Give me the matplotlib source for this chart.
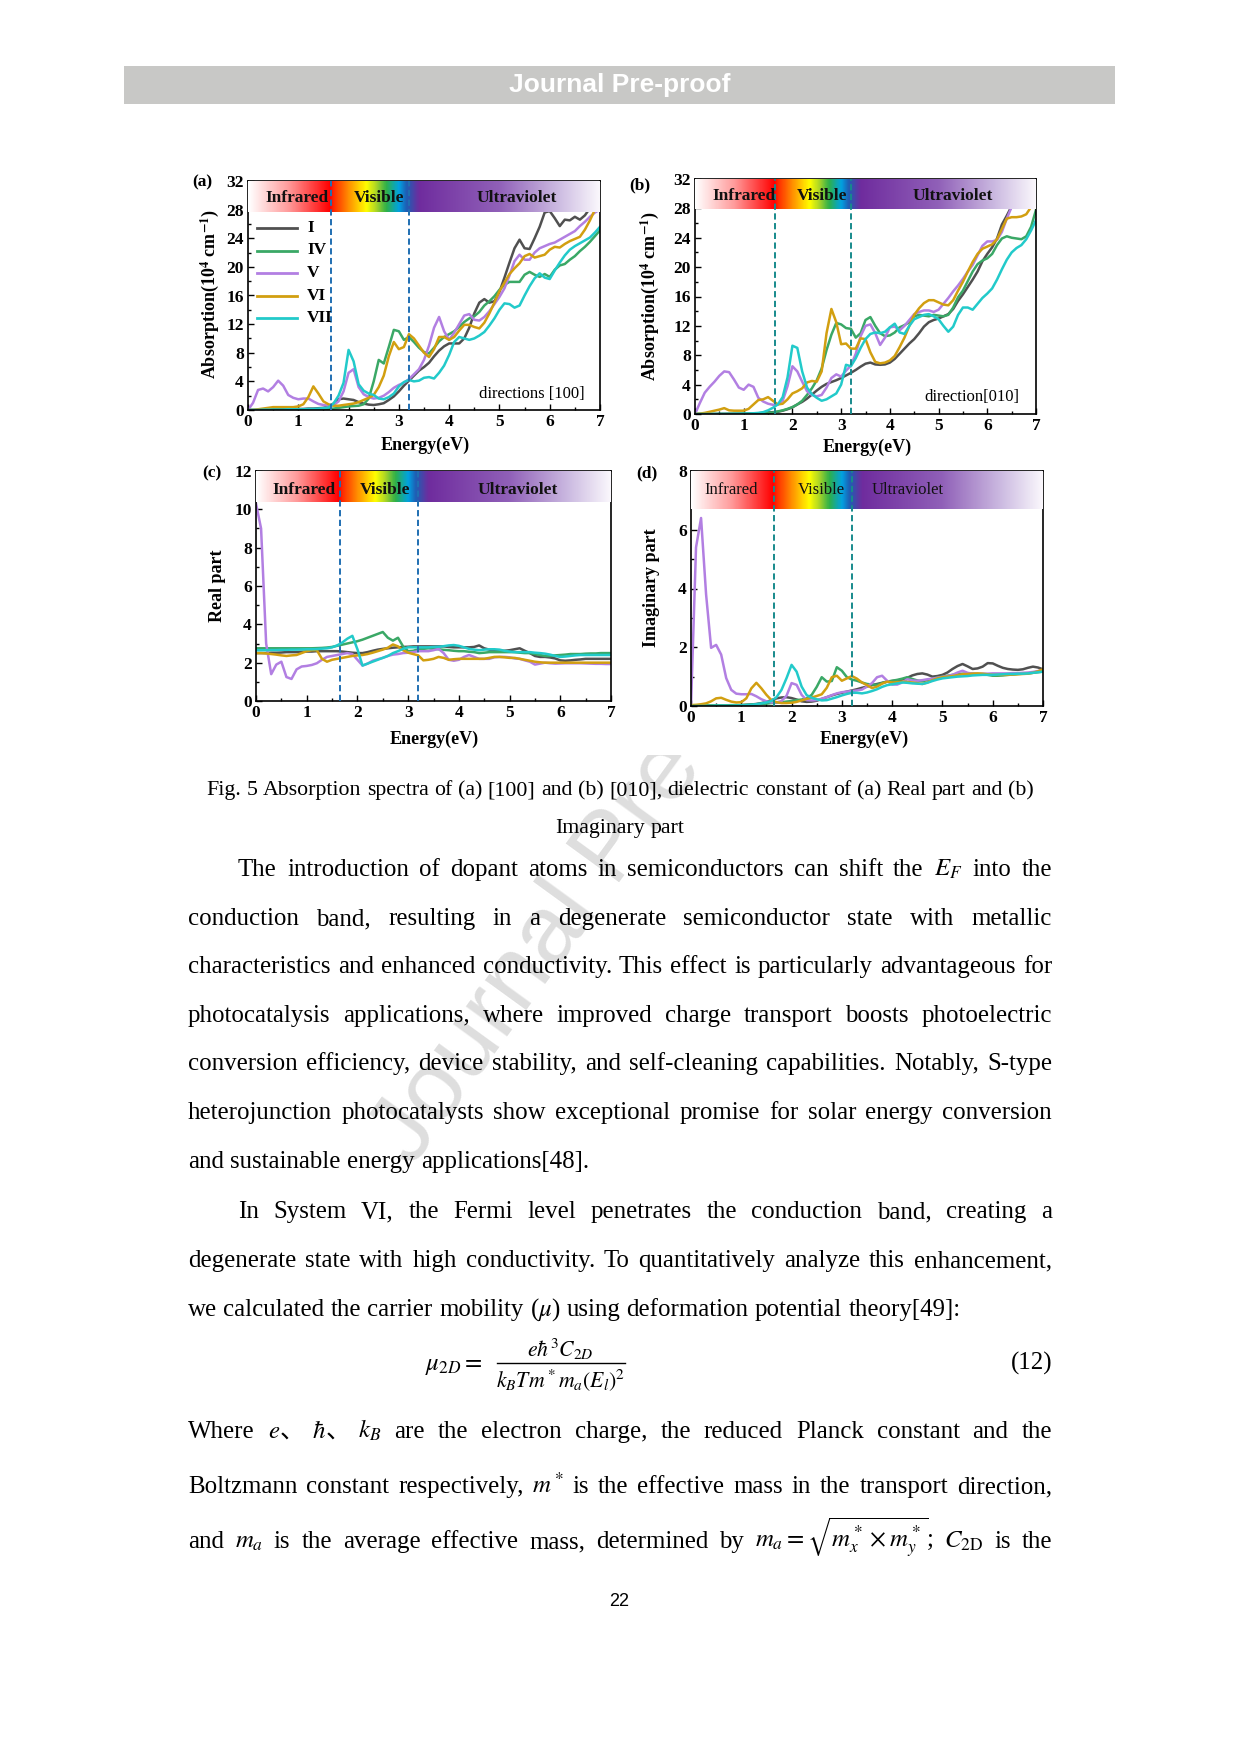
import numpy as np
import matplotlib
matplotlib.use('Agg')
import matplotlib.pyplot as plt
from matplotlib.colors import LinearSegmentedColormap
from matplotlib.patches import Rectangle
from matplotlib.lines import Line2D
from matplotlib.ticker import MultipleLocator

W, H = 1241, 1754
SERIF = ['Liberation Serif', 'DejaVu Serif']
SANS = ['Liberation Sans', 'DejaVu Sans']
CJK = ['Noto Sans CJK SC', 'DejaVu Sans']
plt.rcParams['font.family'] = SERIF
plt.rcParams['mathtext.fontset'] = 'stix'

# ---------------- data ----------------
energy = np.round(np.arange(0, 7.0001, 0.1), 1)
systems = ['I', 'IV', 'V', 'VI', 'VII']
sys_colors = ['#505050', '#3aa866', '#b27fe2', '#d29f10', '#22caca']

# (a) absorption, direction [100]  (10^4 cm^-1)
abs100_I = [0, 0, 0, 0.05, 0.05, 0.1, 0.1, 0.1, 0.1, 0.1,
            0.15, 0.15, 0.2, 0.2, 0.25, 0.3, 0.5, 0.9, 1.5, 1.6,
            1.5, 1.4, 1.1, 0.9, 0.75, 0.7, 0.8, 0.95, 1.4, 1.9,
            2.6, 3.4, 4.1, 4.8, 5.5, 6.0, 6.6, 7.5, 8.3, 8.9,
            9.3, 9.3, 9.3, 10.0, 11.5, 13.5, 15.0, 15.5, 15.0, 15.2,
            16.5, 18.5, 20.6, 22.6, 23.8, 22.6, 22.5, 24.0, 25.6, 27.6,
            27.8, 26.8, 25.7, 26.6, 26.5, 27.0, 26.6, 27.2, 28.2, 28.8,
            29.5]
abs100_IV = [0, 0, 0, 0, 0, 0.05, 0.05, 0.05, 0.05, 0.05,
             0.05, 0.1, 0.1, 0.1, 0.1, 0.15, 0.15, 0.2, 0.3, 0.4,
             0.5, 0.55, 0.6, 0.8, 1.6, 4.0, 7.0, 6.5, 8.8, 11.2,
             11.0, 9.8, 10.2, 9.5, 8.7, 8.1, 7.9, 8.7, 9.6, 10.2,
             10.6, 11.0, 11.6, 12.3, 12.8, 13.1, 13.7, 14.6, 15.2, 15.9,
             16.8, 17.5, 17.9, 17.9, 17.9, 18.9, 19.3, 18.9, 18.6, 19.0,
             18.6, 19.6, 20.2, 20.4, 21.0, 21.5, 22.2, 22.8, 23.5, 24.3,
             25.1]
abs100_V = [0, 1.0, 2.8, 3.0, 2.6, 3.2, 4.1, 3.4, 2.1, 1.7,
            1.5, 1.6, 1.6, 1.2, 0.85, 0.7, 0.6, 0.7, 1.2, 2.6,
            5.2, 5.7, 3.2, 2.2, 1.8, 1.6, 1.7, 2.0, 2.5, 3.1,
            3.5, 3.8, 4.3, 5.0, 5.7, 7.0, 9.0, 11.5, 13.0, 11.0,
            9.8, 10.8, 12.0, 13.2, 13.4, 12.6, 12.5, 13.0, 13.8, 14.8,
            15.8, 17.0, 18.8, 20.8, 21.7, 21.0, 21.0, 22.0, 22.6, 22.9,
            23.2, 23.4, 23.8, 24.2, 24.6, 25.0, 25.7, 26.3, 27.0, 27.6,
            28.0]
abs100_VI = [0, 0, 0.1, 0.2, 0.3, 0.4, 0.4, 0.4, 0.4, 0.4,
             0.5, 0.8, 1.8, 3.3, 2.3, 1.2, 0.8, 0.6, 0.6, 0.7,
             0.8, 0.9, 1.1, 1.4, 1.7, 2.1, 3.2, 4.8, 7.5, 9.5,
             8.5, 8.8, 10.6, 10.0, 9.0, 8.0, 7.4, 8.5, 10.2, 10.2,
             9.8, 10.2, 11.1, 11.9, 11.9, 11.6, 11.4, 12.2, 13.5, 15.0,
             16.6, 17.8, 19.0, 19.8, 20.5, 21.5, 21.8, 21.3, 21.5, 21.7,
             22.4, 22.8, 22.7, 23.2, 23.6, 23.9, 24.2, 25.2, 26.5, 28.0,
             29.0]
abs100_VII = [0, 0, 0, 0.05, 0.05, 0.05, 0.05, 0.05, 0.1, 0.1,
              0.1, 0.1, 0.15, 0.15, 0.2, 0.25, 0.35, 0.9, 2.0, 3.8,
              8.4, 6.8, 3.6, 2.7, 2.3, 2.1, 1.6, 1.5, 1.8, 2.3,
              3.3, 3.9, 4.2, 4.0, 4.1, 4.5, 4.6, 4.4, 5.2, 6.2,
              7.7, 9.5, 10.2, 10.0, 9.8, 10.0, 10.4, 10.9, 11.8, 12.8,
              14.0, 14.9, 14.8, 14.3, 14.6, 16.0, 17.3, 18.4, 19.1, 18.5,
              18.3, 19.5, 20.6, 21.6, 22.4, 22.9, 23.3, 23.7, 24.1, 24.8,
              25.6]

# (b) absorption, direction [010]
abs010_I = [0, 0, 0, 0, 0, 0.02, 0.02, 0.03, 0.03, 0.04,
            0.05, 0.06, 0.08, 0.1, 0.15, 0.2, 0.25, 0.3, 0.45, 0.65,
            0.9, 1.3, 1.65, 2.1, 2.65, 3.2, 3.7, 4.1, 4.35, 4.6,
            4.9, 5.25, 5.6, 6.0, 6.45, 6.85, 7.0, 6.75, 6.7, 6.75,
            7.0, 7.5, 8.2, 8.9, 9.6, 10.2, 11.0, 11.9, 12.5, 12.8,
            13.0, 13.3, 13.6, 14.3, 15.4, 16.3, 17.3, 18.3, 19.4, 20.8,
            21.8, 22.7, 23.9, 25.8, 27.0, 28.3, 29.5, 30.5, 31.5, 32.0,
            32.0]
abs010_IV = [0, 0, 0, 0, 0, 0, 0, 0.01, 0.02, 0.03,
             0.04, 0.05, 0.06, 0.08, 0.1, 0.15, 0.2, 0.35, 0.5, 0.7,
             0.95, 1.3, 1.8, 2.6, 3.5, 4.6, 6.2, 8.7, 10.8, 12.4,
             12.2, 11.7, 11.6, 10.4, 11.0, 12.8, 13.2, 12.0, 11.0, 10.6,
             10.7, 11.1, 11.8, 12.1, 12.5, 13.3, 13.5, 13.4, 13.3, 13.5,
             13.4, 13.3, 13.5, 14.5, 15.9, 16.8, 18.1, 19.4, 20.4, 20.9,
             21.2, 21.8, 23.0, 23.9, 24.2, 24.0, 23.9, 23.8, 24.2, 25.5,
             27.8]
abs010_V = [0, 1.5, 2.9, 3.7, 4.4, 5.2, 5.8, 5.7, 4.7, 3.6,
            3.3, 4.0, 3.7, 2.2, 1.7, 1.4, 1.25, 1.3, 1.8, 3.8,
            6.5, 5.8, 4.4, 3.1, 2.6, 2.4, 2.6, 3.6, 4.9, 5.4,
            5.1, 5.9, 6.6, 8.2, 10.6, 12.0, 12.2, 11.0, 9.4, 10.4,
            11.8, 11.9, 11.4, 12.0, 12.8, 13.6, 13.9, 14.1, 14.1, 13.9,
            14.2, 15.0, 15.8, 16.7, 17.5, 18.4, 19.4, 20.3, 21.6, 22.9,
            23.5, 23.5, 23.7, 24.8, 26.6, 28.2, 29.5, 30.5, 31.5, 32.0,
            32.0]
abs010_VI = [0, 0.05, 0.15, 0.3, 0.45, 0.6, 0.8, 0.5, 0.45, 0.45,
             0.45, 0.7, 1.3, 1.9, 2.0, 2.3, 1.8, 1.3, 1.4, 2.0,
             2.8, 3.1, 3.5, 4.3, 4.5, 4.4, 5.8, 11.0, 14.3, 12.5,
             9.5, 9.6, 8.9, 8.9, 10.3, 10.2, 8.4, 7.1, 6.9, 7.0,
             7.3, 7.9, 9.1, 10.4, 12.0, 13.5, 14.4, 15.1, 15.5, 15.5,
             15.2, 14.9, 14.8, 15.5, 16.8, 18.0, 19.4, 20.7, 21.8, 22.5,
             22.8, 23.1, 23.8, 25.2, 26.6, 26.8, 26.8, 26.9, 27.2, 28.2,
             29.8]
abs010_VII = [0, 0, 0, 0, 0, 0, 0, 0.01, 0.02, 0.03,
              0.05, 0.07, 0.1, 0.15, 0.25, 0.5, 0.85, 1.3, 2.3, 5.0,
              9.3, 9.0, 5.8, 3.6, 2.7, 2.2, 1.8, 2.0, 2.4, 2.8,
              4.0, 6.7, 6.5, 7.6, 9.0, 10.2, 10.9, 11.1, 11.0, 11.2,
              11.8, 12.3, 11.1, 10.9, 12.0, 12.9, 13.2, 13.5, 13.6, 13.3,
              12.9, 12.0, 11.2, 11.9, 13.5, 14.5, 14.5, 14.2, 15.0, 15.8,
              16.4, 17.1, 18.3, 19.7, 21.0, 22.0, 22.6, 23.0, 23.8, 25.0,
              26.4]

# (c) dielectric function, real part
real_I = [2.5, 2.5, 2.5, 2.52, 2.52, 2.53, 2.55, 2.55, 2.55, 2.57,
          2.58, 2.58, 2.6, 2.6, 2.6, 2.6, 2.6, 2.58, 2.55, 2.52,
          2.5, 2.5, 2.55, 2.62, 2.68, 2.72, 2.75, 2.78, 2.8, 2.82,
          2.83, 2.85, 2.85, 2.85, 2.85, 2.85, 2.85, 2.85, 2.82, 2.8,
          2.8, 2.8, 2.8, 2.82, 2.9, 2.75, 2.68, 2.62, 2.6, 2.62,
          2.65, 2.7, 2.75, 2.62, 2.5, 2.35, 2.3, 2.3, 2.27, 2.22,
          2.12, 2.1, 2.12, 2.15, 2.17, 2.2, 2.2, 2.2, 2.2, 2.2,
          2.2]
real_IV = [2.75, 2.75, 2.75, 2.75, 2.75, 2.75, 2.75, 2.75, 2.75, 2.75,
           2.75, 2.75, 2.76, 2.77, 2.79, 2.82, 2.88, 2.94, 3.0, 3.06,
           3.12, 3.2, 3.3, 3.4, 3.5, 3.6, 3.3, 3.15, 3.3, 2.85,
           2.6, 2.62, 2.7, 2.72, 2.75, 2.72, 2.7, 2.67, 2.65, 2.62,
           2.6, 2.6, 2.57, 2.55, 2.5, 2.52, 2.55, 2.55, 2.55, 2.55,
           2.55, 2.55, 2.52, 2.5, 2.5, 2.45, 2.4, 2.35, 2.35, 2.38,
           2.4, 2.42, 2.45, 2.45, 2.45, 2.47, 2.48, 2.48, 2.5, 2.5,
           2.5]
real_V = [10.3, 9.0, 3.0, 1.4, 1.9, 2.05, 1.25, 1.15, 1.65, 1.8,
          1.83, 1.88, 1.97, 2.15, 2.3, 2.35, 2.4, 2.45, 2.5, 2.45,
          2.15, 1.85, 1.95, 2.1, 2.18, 2.25, 2.35, 2.42, 2.45, 2.5,
          2.52, 2.55, 2.6, 2.6, 2.6, 2.65, 2.72, 2.5, 2.15, 2.1,
          2.15, 2.3, 2.4, 2.3, 2.2, 2.2, 2.2, 2.28, 2.3, 2.3,
          2.28, 2.22, 2.2, 2.12, 2.05, 1.9, 1.95, 2.0, 1.97, 1.95,
          1.96, 1.97, 1.97, 1.97, 1.97, 1.96, 1.95, 1.94, 1.94, 1.93,
          1.93]
real_VI = [2.5, 2.5, 2.48, 2.45, 2.42, 2.38, 2.35, 2.38, 2.4, 2.5,
           2.6, 2.65, 2.65, 2.2, 2.05, 2.15, 2.2, 2.25, 2.3, 2.35,
           2.38, 2.4, 2.45, 2.52, 2.6, 2.68, 2.78, 2.95, 2.85, 2.65,
           2.52, 2.45, 2.38, 2.12, 2.15, 2.2, 2.3, 2.25, 2.15, 2.18,
           2.2, 2.2, 2.2, 2.2, 2.2, 2.2, 2.25, 2.3, 2.3, 2.28,
           2.25, 2.25, 2.2, 2.15, 2.1, 2.05, 2.02, 2.0, 2.0, 2.0,
           2.0, 2.0, 2.0, 2.0, 2.0, 2.0, 2.0, 2.0, 2.0, 2.0,
           2.0]
real_VII = [2.65, 2.65, 2.65, 2.66, 2.66, 2.67, 2.67, 2.68, 2.68, 2.69,
            2.7, 2.7, 2.71, 2.73, 2.75, 2.8, 2.9, 3.05, 3.25, 3.4,
            2.7, 1.85, 1.95, 2.05, 2.15, 2.25, 2.35, 2.5, 2.6, 2.72,
            2.8, 2.8, 2.8, 2.8, 2.8, 2.82, 2.83, 2.86, 2.9, 2.92,
            2.88, 2.8, 2.72, 2.68, 2.65, 2.68, 2.7, 2.7, 2.68, 2.62,
            2.58, 2.55, 2.55, 2.55, 2.55, 2.52, 2.5, 2.47, 2.42, 2.35,
            2.3, 2.32, 2.35, 2.38, 2.4, 2.4, 2.4, 2.4, 2.4, 2.4,
            2.4]

# (d) dielectric function, imaginary part
imag_I = [0, 0, 0, 0, 0, 0, 0.01, 0.01, 0.02, 0.02,
          0.03, 0.04, 0.05, 0.07, 0.1, 0.14, 0.2, 0.26, 0.29, 0.3,
          0.27, 0.22, 0.16, 0.14, 0.15, 0.18, 0.24, 0.3, 0.36, 0.41,
          0.45, 0.49, 0.53, 0.57, 0.62, 0.66, 0.71, 0.75, 0.79, 0.83,
          0.85, 0.87, 0.9, 0.96, 1.04, 1.09, 1.11, 1.07, 1.0, 1.02,
          1.06, 1.14, 1.26, 1.36, 1.43, 1.35, 1.26, 1.28, 1.34, 1.46,
          1.45, 1.37, 1.3, 1.26, 1.24, 1.23, 1.25, 1.3, 1.34, 1.31,
          1.25]
imag_IV = [0, 0.01, 0.01, 0.02, 0.02, 0.02, 0.02, 0.02, 0.03, 0.03,
           0.03, 0.04, 0.05, 0.06, 0.07, 0.08, 0.1, 0.11, 0.13, 0.15,
           0.17, 0.2, 0.22, 0.26, 0.38, 0.65, 0.98, 0.83, 0.85, 1.32,
           1.2, 0.98, 0.9, 0.86, 0.8, 0.75, 0.73, 0.72, 0.78, 0.83,
           0.86, 0.89, 0.93, 0.98, 0.92, 0.87, 0.84, 0.88, 0.93, 0.97,
           1.0, 1.03, 1.06, 1.08, 1.1, 1.11, 1.1, 1.09, 1.08, 1.06,
           1.03, 1.03, 1.04, 1.06, 1.07, 1.09, 1.1, 1.11, 1.13, 1.15,
           1.17]
imag_V = [0, 5.4, 6.4, 3.8, 1.98, 2.08, 1.75, 0.95, 0.55, 0.42,
          0.4, 0.4, 0.41, 0.33, 0.23, 0.16, 0.12, 0.12, 0.17, 0.35,
          0.78, 0.72, 0.38, 0.2, 0.19, 0.2, 0.25, 0.3, 0.37, 0.43,
          0.47, 0.49, 0.51, 0.53, 0.56, 0.66, 0.78, 0.98, 1.03, 0.86,
          0.73, 0.73, 0.8, 0.91, 0.87, 0.86, 0.88, 0.91, 0.93, 0.96,
          0.99, 1.02, 1.06, 1.14, 1.2, 1.13, 1.1, 1.09, 1.1, 1.1,
          1.11, 1.11, 1.11, 1.11, 1.12, 1.12, 1.13, 1.14, 1.16, 1.19,
          1.23]
imag_VI = [0.03, 0.04, 0.06, 0.09, 0.16, 0.26, 0.28, 0.21, 0.15, 0.12,
           0.13, 0.26, 0.6, 0.79, 0.6, 0.38, 0.2, 0.13, 0.1, 0.1,
           0.11, 0.14, 0.19, 0.24, 0.29, 0.34, 0.4, 0.62, 0.98, 1.03,
           0.86, 0.94, 1.02, 0.93, 0.8, 0.71, 0.61, 0.66, 0.76, 0.83,
           0.8, 0.81, 0.83, 0.82, 0.8, 0.78, 0.75, 0.8, 0.88, 0.94,
           0.98, 1.0, 1.02, 1.05, 1.08, 1.09, 1.1, 1.11, 1.1, 1.08,
           1.06, 1.06, 1.06, 1.06, 1.07, 1.08, 1.09, 1.1, 1.13, 1.18,
           1.25]
imag_VII = [0, 0, 0, 0, 0, 0.01, 0.01, 0.01, 0.01, 0.02,
            0.02, 0.03, 0.04, 0.06, 0.09, 0.12, 0.17, 0.3, 0.55, 0.95,
            1.4, 1.17, 0.66, 0.37, 0.28, 0.23, 0.19, 0.2, 0.25, 0.3,
            0.36, 0.41, 0.45, 0.45, 0.43, 0.46, 0.51, 0.57, 0.65, 0.71,
            0.74, 0.77, 0.8, 0.79, 0.77, 0.76, 0.75, 0.79, 0.85, 0.9,
            0.94, 0.96, 0.98, 1.0, 1.01, 1.02, 1.04, 1.05, 1.06, 1.06,
            1.06, 1.07, 1.08, 1.09, 1.09, 1.1, 1.1, 1.11, 1.13, 1.15,
            1.17]

region_edges = [1.65, 3.2]
region_names = ['Infrared', 'Visible', 'Ultraviolet']

band_stops = [0.0, 0.8, 1.62, 1.7, 2.0, 2.35, 2.55, 2.75, 3.0, 3.15, 3.4, 5.0, 6.2, 7.0]
band_colors = ['#ffffff', '#ff9a9a', '#ff0000', '#ff2a00', '#ff9000', '#ffff00', '#a8d428',
               '#2eb04a', '#00a2e2', '#1e5fb4', '#6f2c9e', '#9060b8', '#cdbce2', '#faf7fc']
spec_cmap = LinearSegmentedColormap.from_list(
    'spec', list(zip(np.array(band_stops) / 7.0, band_colors)))

# ---------------- figure ----------------
fig = plt.figure(figsize=(W / 100, H / 100), dpi=100)


def fx(x):
    return x / W


def fy(y):
    return 1 - y / H


def axes_at(x0, y0, x1, y1):
    return fig.add_axes([x0 / W, 1 - y1 / H, (x1 - x0) / W, (y1 - y0) / H])


def panel(box, series, ylim, ymaj, ymin, band_lo, lab_x, lab_y, lab_kw, vcol):
    ax = axes_at(*box)
    for vals, c in zip(series, sys_colors):
        ax.plot(energy, vals, color=c, lw=1.8, zorder=2, solid_joinstyle='round')
    grad = np.linspace(0, 1, 800).reshape(1, -1)
    ax.imshow(grad, extent=[0, 7, band_lo, ylim[1]], aspect='auto', cmap=spec_cmap,
              zorder=3, interpolation='bilinear')
    for e in region_edges:
        ax.axvline(e, color=vcol, lw=1.4, ls=(0, (3.2, 1.8)), zorder=4)
    for name, xx in zip(region_names, lab_x):
        ax.text(xx, lab_y, name, ha='center', va='center', zorder=5, color='#111111', **lab_kw)
    ax.set_xlim(0, 7)
    ax.set_ylim(*ylim)
    ax.xaxis.set_major_locator(MultipleLocator(1))
    ax.xaxis.set_minor_locator(MultipleLocator(0.5))
    ax.yaxis.set_major_locator(MultipleLocator(ymaj))
    ax.yaxis.set_minor_locator(MultipleLocator(ymin))
    ax.tick_params(which='both', direction='in', top=False, right=False, width=1.0)
    ax.tick_params(which='major', length=4, labelsize=12.5, pad=3)
    ax.tick_params(which='minor', length=2.5)
    for lbl in ax.get_xticklabels() + ax.get_yticklabels():
        lbl.set_fontweight('bold')
    for sp in ax.spines.values():
        sp.set_linewidth(1.2)
    return ax


band_bold = dict(fontsize=12.5, fontweight='bold')
band_thin = dict(fontsize=12, fontweight='normal')

axA = panel((248, 181, 600, 410), [abs100_I, abs100_IV, abs100_V, abs100_VI, abs100_VII],
            (0, 32), 4, 2, 27.7, [0.98, 2.6, 5.35], 29.6, band_bold, '#1f6fb2')
axB = panel((695, 179, 1036, 414), [abs010_I, abs010_IV, abs010_V, abs010_VI, abs010_VII],
            (0, 32), 4, 2, 27.9, [1.0, 2.6, 5.3], 29.7, band_bold, '#178a8c')
axC = panel((256, 471, 611, 701), [real_I, real_IV, real_V, real_VI, real_VII],
            (0, 12), 2, 1, 10.4, [0.94, 2.55, 5.16], 11.0, band_bold, '#1f6fb2')
axD = panel((691, 471, 1043, 706), [imag_I, imag_IV, imag_V, imag_VI, imag_VII],
            (0, 8), 2, 1, 6.7, [0.8, 2.6, 4.3], 7.35, band_thin, '#178a8c')

axA.text(5.65, 2.2, 'directions [100]', ha='center', va='center', fontsize=12, zorder=5)
axB.text(5.69, 2.3, 'direction[010]', ha='center', va='center', fontsize=12, zorder=5)

# legend of panel (a), drawn in pixel positions
for i, (name, c) in enumerate(zip(systems, sys_colors)):
    yy = 228 + 22.5 * i
    fig.add_artist(Line2D([fx(257), fx(297)], [fy(yy), fy(yy)], color=c, lw=2.0,
                          transform=fig.transFigure))
    fig.text(fx(307), fy(yy), name, ha='left', va='center', fontsize=12.5, fontweight='bold')

# panel tags, axis labels
for tag, (x, y) in zip(['(a)', '(b)', '(c)', '(d)'], [(202, 182), (640, 185), (212, 473), (647, 473)]):
    fig.text(fx(x), fy(y), tag, ha='center', va='center', fontsize=12.5, fontweight='bold')
for (x, y) in [(425, 445), (867, 447), (434, 739), (864, 739)]:
    fig.text(fx(x), fy(y), 'Energy(eV)', ha='center', va='center', fontsize=13, fontweight='bold')
ylab_abs = r'Absorption(10$^{\mathbf{4}}$ cm$^{\mathbf{-1}}$)'
for s, (x, y) in [(ylab_abs, (210, 294)), (ylab_abs, (650, 296)),
                  ('Real part', (218, 586)), ('Imaginary part', (651, 588))]:
    fig.text(fx(x), fy(y), s, ha='center', va='center', rotation=90, fontsize=13, fontweight='bold')

# ---------------- page decorations ----------------
fig.add_artist(Rectangle((fx(124), fy(104)), (1115 - 124) / W, 38 / H, transform=fig.transFigure,
                         facecolor='#c8c8c6', edgecolor='none', zorder=-5))
fig.text(fx(620), fy(85), 'Journal Pre-proof', ha='center', va='center', color='white',
         fontsize=19, fontweight='bold', family=SANS)

fig.text(fx(612), fy(850), 'Journal Pre-proof', ha='center', va='center', rotation=54,
         rotation_mode='anchor', fontsize=70, color='#dedede', family=SANS, zorder=-4)
fig.add_artist(Rectangle((fx(186), fy(755)), (1064 - 186) / W, (755 - 140) / H,
                         transform=fig.transFigure, facecolor='white', edgecolor='none', zorder=-3))

# ---------------- body text ----------------
renderer = fig.canvas.get_renderer()


def measure(s, fs, **kw):
    t = fig.text(0, 0, s, fontsize=fs, **kw)
    w = t.get_window_extent(renderer).width
    t.remove()
    return w


def draw_line(words, base_y, x0, x1, fs, justify=True, center=None, **kw):
    items = []
    total = 0.0
    for wd in words:
        pieces = wd if isinstance(wd, list) else [wd]
        objs = []
        for p in pieces:
            pkw = dict(kw)
            extra = 0.0
            if p == '、':
                pkw['family'] = CJK
                extra = 0.3 * fs * 100 / 72
            t = fig.text(0, fy(base_y), p, fontsize=fs, ha='left', va='baseline', **pkw)
            w = t.get_window_extent(renderer).width
            objs.append((t, w, extra))
            total += w + extra
        items.append(objs)
    space = measure('n n', fs, **kw) - measure('nn', fs, **kw)
    if justify and len(items) > 1:
        gap = (x1 - x0 - total) / (len(items) - 1)
    else:
        gap = space
    x = x0
    if center is not None:
        x = center - (total + gap * (len(items) - 1)) / 2
    for objs in items:
        for t, w, extra in objs:
            t.set_x(fx(x))
            x += w + extra
        x += gap


fs_body = 10 * 400 / measure('and sustainable energy applications[48].', 10)
fs_cap = 10 * 827 / measure('Fig. 5 Absorption spectra of (a) [100] and (b) [010], dielectric '
                            'constant of (a) Real part and (b)', 10)
L, R, IND = 188, 1052, 238
OFF = 8

cap1 = 'Fig. 5 Absorption spectra of (a) [100] and (b) [010], dielectric constant of (a) Real part and (b)'
draw_line(cap1.split(), 787 + OFF, L, R, fs_cap, justify=False, center=620)
draw_line(['Imaginary', 'part'], 825 + OFF, L, R, fs_cap, justify=False, center=620)

para1 = [
    (IND, True, 'The introduction of dopant atoms in semiconductors can shift the $E_F$ into the'),
    (L, True, 'conduction band, resulting in a degenerate semiconductor state with metallic'),
    (L, True, 'characteristics and enhanced conductivity. This effect is particularly advantageous for'),
    (L, True, 'photocatalysis applications, where improved charge transport boosts photoelectric'),
    (L, True, 'conversion efficiency, device stability, and self-cleaning capabilities. Notably, S-type'),
    (L, True, 'heterojunction photocatalysts show exceptional promise for solar energy conversion'),
    (L, False, 'and sustainable energy applications[48].'),
    (IND, True, 'In System VI, the Fermi level penetrates the conduction band, creating a'),
    (L, True, 'degenerate state with high conductivity. To quantitatively analyze this enhancement,'),
    (L, False, r'we calculated the carrier mobility ($\mu$) using deformation potential theory[49]:'),
]
ys = [868, 917, 965, 1014, 1062, 1111, 1160, 1210, 1259, 1308]
for (x0, just, s), y in zip(para1, ys):
    draw_line(s.split(' '), y + OFF, x0, R, fs_body, justify=just)

# equation (12)
den = r'$k_BTm^*m_a(E_l)^2$'
fs_eq = fs_body * 129 / measure(den, fs_body)
fig.text(fx(425), fy(1370), r'$\mu_{2D}=$', ha='left', va='baseline', fontsize=fs_body)
fig.text(fx(560), fy(1357), r'$e\hbar^3C_{2D}$', ha='center', va='baseline', fontsize=fs_eq)
fig.text(fx(561), fy(1387), den, ha='center', va='baseline', fontsize=fs_eq)
fig.add_artist(Line2D([fx(497), fx(625)], [fy(1363), fy(1363)], color='black', lw=1.0,
                      transform=fig.transFigure))
fig.text(fx(R), fy(1370), '(12)', ha='right', va='baseline', fontsize=fs_body)

where1 = [['Where'], [r'$e$', '、', r'$\hbar$', '、', r'$k_B$'], 'are', 'the', 'electron', 'charge,',
          'the', 'reduced', 'Planck', 'constant', 'and', 'the']
where2 = 'Boltzmann constant respectively, $m^*$ is the effective mass in the transport direction,'.split(' ')
where3 = ['and', r'$m_a$', 'is', 'the', 'average', 'effective', 'mass,', 'determined', 'by',
          r'$m_a=\sqrt{m_x^*\times m_y^*}$;', r'$C_{\mathrm{2D}}$', 'is', 'the']
draw_line(where1, 1430 + OFF, L, R, fs_body, justify=True)
draw_line(where2, 1485 + OFF, L, R, fs_body, justify=True)
draw_line(where3, 1540 + OFF, L, R, fs_body, justify=True)

fig.text(fx(619), fy(1602), '22', ha='center', va='center', fontsize=13, family=SANS)

fig.savefig('out.png', dpi=100, facecolor='white')
